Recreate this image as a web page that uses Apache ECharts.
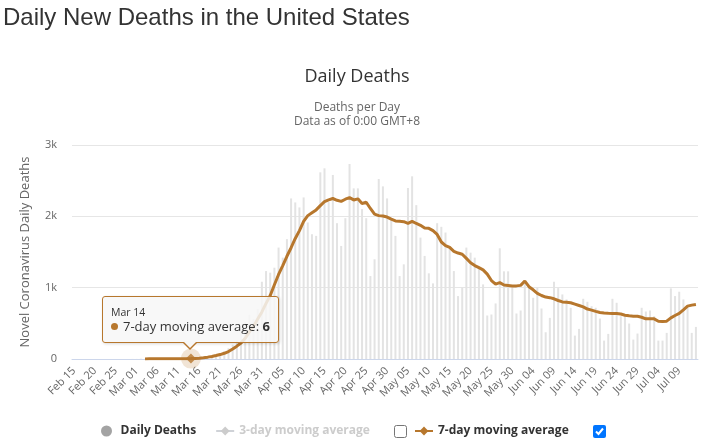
<!DOCTYPE html>
<html>
<head>
<meta charset="utf-8">
<script src="https://cdn.jsdelivr.net/npm/echarts@6/dist/echarts.min.js"></script>
<style>
html,body{margin:0;padding:0;background:#fff;}
#chart{width:705px;height:444px;}
</style>
</head>
<body>
<div id="chart"></div>
<script>
// ---------- DATA ----------
const dates = [
 'Feb 15','Feb 16','Feb 17','Feb 18','Feb 19','Feb 20','Feb 21','Feb 22','Feb 23','Feb 24','Feb 25','Feb 26','Feb 27','Feb 28','Feb 29',
 'Mar 01','Mar 02','Mar 03','Mar 04','Mar 05','Mar 06','Mar 07','Mar 08','Mar 09','Mar 10','Mar 11','Mar 12','Mar 13','Mar 14','Mar 15','Mar 16','Mar 17','Mar 18','Mar 19','Mar 20','Mar 21','Mar 22','Mar 23','Mar 24','Mar 25','Mar 26','Mar 27','Mar 28','Mar 29','Mar 30','Mar 31',
 'Apr 01','Apr 02','Apr 03','Apr 04','Apr 05','Apr 06','Apr 07','Apr 08','Apr 09','Apr 10','Apr 11','Apr 12','Apr 13','Apr 14','Apr 15','Apr 16','Apr 17','Apr 18','Apr 19','Apr 20','Apr 21','Apr 22','Apr 23','Apr 24','Apr 25','Apr 26','Apr 27','Apr 28','Apr 29','Apr 30',
 'May 01','May 02','May 03','May 04','May 05','May 06','May 07','May 08','May 09','May 10','May 11','May 12','May 13','May 14','May 15','May 16','May 17','May 18','May 19','May 20','May 21','May 22','May 23','May 24','May 25','May 26','May 27','May 28','May 29','May 30','May 31',
 'Jun 01','Jun 02','Jun 03','Jun 04','Jun 05','Jun 06','Jun 07','Jun 08','Jun 09','Jun 10','Jun 11','Jun 12','Jun 13','Jun 14','Jun 15','Jun 16','Jun 17','Jun 18','Jun 19','Jun 20','Jun 21','Jun 22','Jun 23','Jun 24','Jun 25','Jun 26','Jun 27','Jun 28','Jun 29','Jun 30',
 'Jul 01','Jul 02','Jul 03','Jul 04','Jul 05','Jul 06','Jul 07','Jul 08','Jul 09','Jul 10','Jul 11','Jul 12','Jul 13'
];

const dailyDeaths = [
 0,0,0,0,0,0,0,0,0,0,0,0,0,0,1,
 1,4,1,4,1,2,3,4,4,5,8,7,6,8,10,19,23,30,45,55,75,110,150,200,260,400,520,620,560,700,1083,
 1233,1210,1280,1562,1421,1680,2251,2195,2125,2265,1914,1749,1726,2617,2673,2200,2580,1904,1585,1974,2734,2392,2392,2101,1974,1163,1398,2523,2420,2251,
 1960,1726,1163,1327,2397,2561,2157,1702,1445,1201,1060,1904,1853,1773,1550,1233,882,999,1562,1491,1421,1280,1046,610,624,779,1552,1229,1229,1022,638,
 680,1069,1022,858,999,708,375,577,1083,994,905,835,718,328,422,844,802,740,718,567,258,352,844,788,600,600,497,272,357,718,
 666,680,600,258,258,366,990,882,943,835,760,366,450
];

const sevenDayAvg = [
 null,null,null,null,null,null,null,null,null,null,null,null,null,null,null,
 null,null,1,2,2,2,2,3,3,3,4,4,5,6,8,12,18,26,36,48,62,80,105,140,180,225,290,380,460,560,660,
 780,890,1040,1185,1310,1440,1560,1690,1800,1930,2010,2050,2090,2150,2205,2230,2250,2225,2210,2240,2262,2230,2245,2180,2197,2110,2030,2010,2005,1990,
 1960,1935,1930,1925,1902,1930,1900,1874,1836,1832,1800,1746,1640,1590,1565,1510,1485,1469,1410,1350,1310,1280,1249,1190,1100,1050,1070,1037,1030,1023,1025,
 1032,1093,1013,970,920,890,868,860,844,820,800,795,788,770,750,730,700,685,668,652,645,640,638,638,630,614,605,600,600,585,
 563,563,563,530,525,530,577,610,640,690,741,755,765
];

const threeDayAvg = []; // series hidden in the reference (legend item switched off)

const yTicks = [0, 1000, 2000, 3000];
const hoverDate = 'Mar 14';

// ---------- STYLE ----------
const brown = '#b7772d';
const FONT = "'Open Sans', 'Noto Sans', sans-serif";
const hoverIdx = dates.indexOf(hoverDate);

const chart = echarts.init(document.getElementById('chart'), null, {renderer: 'canvas'});

const option = {
  animation: false,
  textStyle: {fontFamily: FONT},
  title: [
    {text: 'Daily New Deaths in the United States', left: 3, top: 6, padding: 0,
     textVerticalAlign: 'top',
     textStyle: {fontFamily: "'Liberation Sans', Arial, sans-serif", fontSize: 24, fontWeight: 'normal', color: '#333', lineHeight: 24}},
    {text: 'Daily Deaths', left: 357, top: 68, padding: 0, textAlign: 'center', textVerticalAlign: 'top',
     textStyle: {fontFamily: FONT, fontSize: 18, fontWeight: 'normal', color: '#333', lineHeight: 18}},
    {text: 'Deaths per Day\nData as of 0:00 GMT+8', left: 357, top: 101, padding: 0, textAlign: 'center', textVerticalAlign: 'top',
     textStyle: {fontFamily: FONT, fontSize: 12, fontWeight: 'normal', color: '#666', lineHeight: 14}}
  ],
  grid: {left: 72, right: 7, top: 145, bottom: 85, containLabel: false},
  legend: [
    {left: 96, top: 420, padding: 5, itemGap: 19, itemWidth: 18, itemHeight: 11,
     textStyle: {fontFamily: FONT, fontSize: 12, fontWeight: 'bold', color: '#333'},
     inactiveColor: '#cccccc',
     lineStyle: {width: 2},
     selected: {'3-day moving average': false},
     data: [
       {name: 'Daily Deaths', icon: 'circle', itemStyle: {color: '#a3a3a3'}},
       {name: '3-day moving average'}
     ]},
    {left: 409, top: 420, padding: 5, itemWidth: 18, itemHeight: 11,
     textStyle: {fontFamily: FONT, fontSize: 12, fontWeight: 'bold', color: '#333'},
     lineStyle: {width: 2},
     data: [{name: '7-day moving average'}]}
  ],
  tooltip: {
    trigger: 'item',
    triggerOn: 'none',
    alwaysShowContent: true,
    transitionDuration: 0,
    confine: false,
    padding: [8, 8, 8, 8],
    backgroundColor: 'rgba(247,247,247,0.85)',
    borderColor: brown,
    borderWidth: 1,
    textStyle: {fontFamily: FONT, fontSize: 13, color: '#333'},
    extraCssText: 'border-radius:3px;box-shadow:1px 1px 3px rgba(0,0,0,0.15);',
    formatter: function () {
      return '<div style="font-size:10.5px;line-height:14px;color:#333">' + dates[hoverIdx] + '</div>' +
        '<div style="font-size:13px;line-height:15px;color:#333;white-space:nowrap">' +
        '<span style="display:inline-block;width:7px;height:7px;border-radius:50%;background:' + brown + ';margin-right:5px;vertical-align:1px"></span>' +
        '7-day moving average: <b>' + sevenDayAvg[hoverIdx] + '</b></div>' +
        '<div style="position:absolute;left:50%;bottom:-8px;margin-left:-8px;width:0;height:0;border-left:8px solid transparent;border-right:8px solid transparent;border-top:8px solid ' + brown + '"></div>' +
        '<div style="position:absolute;left:50%;bottom:-6px;margin-left:-7px;width:0;height:0;border-left:7px solid transparent;border-right:7px solid transparent;border-top:7px solid #f7f7f7"></div>';
    },
    position: function (point, params, dom, rect, size) {
      return [point[0] - size.contentSize[0] / 2, point[1] - size.contentSize[1] - 16];
    }
  },
  xAxis: {
    type: 'category',
    data: dates,
    boundaryGap: true,
    axisLine: {show: true, lineStyle: {color: '#ccd6eb', width: 1}},
    axisTick: {show: false},
    splitLine: {show: false},
    axisLabel: {interval: 4, rotate: 45, margin: 10, fontSize: 11, color: '#666', fontFamily: FONT}
  },
  yAxis: {
    type: 'value',
    min: yTicks[0],
    max: yTicks[yTicks.length - 1],
    interval: yTicks[1] - yTicks[0],
    name: 'Novel Coronavirus Daily Deaths',
    nameLocation: 'middle',
    nameGap: 40,
    nameTextStyle: {fontSize: 13, color: '#666', fontFamily: FONT},
    axisLine: {show: false},
    axisTick: {show: false},
    splitLine: {lineStyle: {color: '#e6e6e6', width: 1}},
    axisLabel: {margin: 15, fontSize: 11, color: '#666', fontFamily: FONT,
      formatter: v => v === 0 ? '0' : (v / 1000) + 'k'}
  },
  series: [
    {name: 'Daily Deaths', type: 'bar', data: dailyDeaths, barWidth: 2,
     itemStyle: {color: '#e3e3e3'}, silent: true, z: 1},
    {name: '3-day moving average', type: 'line', data: threeDayAvg, symbol: 'diamond', showSymbol: false,
     itemStyle: {color: '#cccccc'}, lineStyle: {color: '#cccccc', width: 2}, silent: true},
    {name: '7-day moving average', type: 'line', data: sevenDayAvg, symbol: 'diamond', showSymbol: false,
     itemStyle: {color: brown}, lineStyle: {color: brown, width: 3}, silent: true, z: 3,
     emphasis: {disabled: true}},
    {name: 'hover', type: 'scatter', z: 4, silent: false,
     data: [
       {value: [hoverDate, sevenDayAvg[hoverIdx]], symbol: 'circle', symbolSize: 20, itemStyle: {color: 'rgba(183,119,45,0.25)'}},
       {value: [hoverDate, sevenDayAvg[hoverIdx]], symbol: 'diamond', symbolSize: 10, itemStyle: {color: brown}}
     ],
     emphasis: {disabled: true}}
  ],
  graphic: [
    {type: 'rect', shape: {x: 394.5, y: 425.5, width: 12, height: 12, r: 2},
     style: {fill: '#ffffff', stroke: '#767676', lineWidth: 1}},
    {type: 'rect', shape: {x: 593, y: 425, width: 13, height: 13, r: 2},
     style: {fill: '#0075ff'}},
    {type: 'polyline', shape: {points: [[596, 431.5], [598.5, 434], [603, 428.5]]},
     style: {stroke: '#ffffff', lineWidth: 2, fill: null}}
  ]
};

chart.setOption(option);
chart.dispatchAction({type: 'showTip', seriesIndex: 3, dataIndex: 1});
</script>
</body>
</html>
